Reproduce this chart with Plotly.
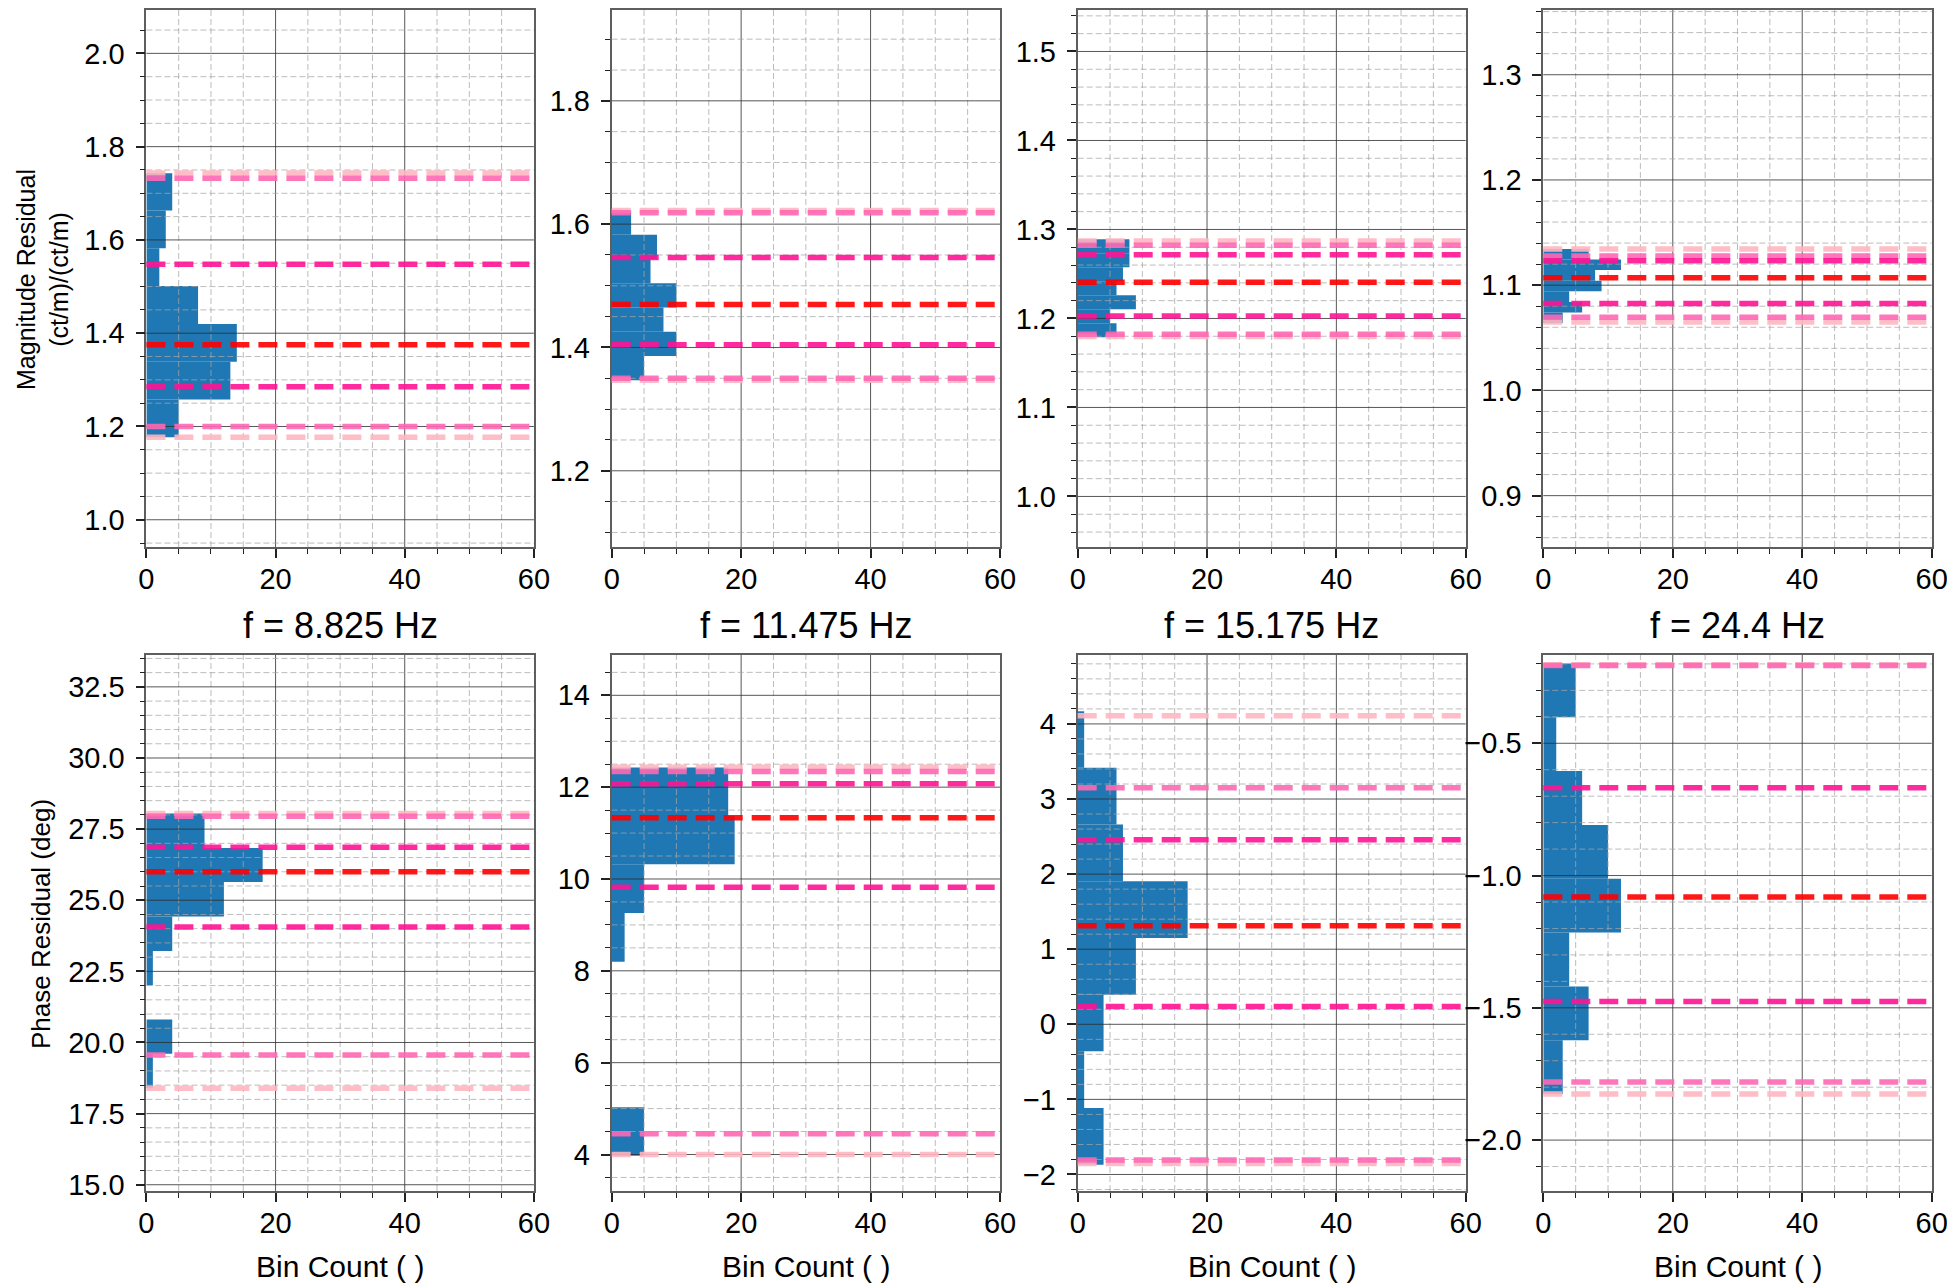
import numpy as np
import plotly.graph_objects as go

# ---------------- data ----------------
freq_labels = ["f = 8.825 Hz", "f = 11.475 Hz", "f = 15.175 Hz", "f = 24.4 Hz"]

# Magnitude residual histograms: bin edges (bottom -> top) and counts
mag_edges = [
    [1.177, 1.258, 1.339, 1.420, 1.501, 1.582, 1.663, 1.743],
    [1.3467, 1.3860, 1.4253, 1.4647, 1.5040, 1.5433, 1.5827, 1.6220],
    [1.1790, 1.1947, 1.2104, 1.2261, 1.2419, 1.2576, 1.2733, 1.2890],
    [1.0640, 1.0741, 1.0841, 1.0942, 1.1043, 1.1144, 1.1244, 1.1345],
]
mag_counts = [
    [5, 13, 14, 8, 2, 3, 4],
    [5, 10, 8, 10, 6, 7, 3],
    [6, 5, 9, 6, 7, 8, 8],
    [3, 6, 4, 9, 8, 12, 7],
]
# Quantile lines: -3s, -2s, -1s, median, +1s, +2s, +3s
mag_quantiles = [
    [1.1770, 1.1998, 1.2853, 1.3751, 1.5478, 1.7324, 1.7434],
    [1.3467, 1.3499, 1.4043, 1.4696, 1.5458, 1.6185, 1.6220],
    [1.1796, 1.1823, 1.2027, 1.2406, 1.2716, 1.2823, 1.2871],
    [1.0651, 1.0696, 1.0827, 1.1071, 1.1233, 1.1278, 1.1345],
]

# Phase residual histograms
phase_edges = [
    [18.39, 19.60, 20.81, 22.01, 23.22, 24.43, 25.64, 26.84, 28.05],
    [3.97, 5.03, 6.09, 7.14, 8.20, 9.26, 10.32, 11.37, 12.43],
    [-1.870, -1.115, -0.360, 0.395, 1.150, 1.905, 2.660, 3.415, 4.170],
    [-1.826, -1.6225, -1.419, -1.2155, -1.012, -0.8085, -0.605, -0.4015, -0.198],
]
phase_counts = [
    [1, 4, 0, 1, 4, 12, 18, 9],
    [5, 0, 0, 0, 2, 5, 19, 18],
    [4, 1, 4, 9, 17, 7, 6, 1],
    [3, 7, 4, 12, 10, 6, 2, 5],
]
phase_quantiles = [
    [18.39, 19.56, 24.06, 26.00, 26.86, 27.95, 28.05],
    [4.000, 4.453, 9.820, 11.335, 12.074, 12.342, 12.434],
    [-1.853, -1.807, 0.238, 1.314, 2.459, 3.150, 4.108],
    [-1.826, -1.7806, -1.4759, -1.0808, -0.6685, -0.2060, -0.2032],
]

x_ticks = [0, 20, 40, 60]

# ---------------- layout config ----------------
OFF = 8                      # page body margin of the browser
W, H = 1955 - OFF, 1286 - OFF
col_px = [(146.4, 533.9), (611.7, 1000.0), (1077.7, 1465.7), (1543.3, 1931.7)]
row_px = [(10, 547), (655, 1191)]

def fx(px):
    return (px - OFF) / W

def fy(py):
    return 1 - (py - OFF) / H

y_ranges = [
    [(0.9416, 2.093), (1.0764, 1.9473), (0.9432, 1.5466), (0.8512, 1.3615)],
    [(14.78, 33.62), (3.205, 14.878), (-2.22, 4.918), (-2.1925, -0.1663)],
]
y_major = [[0.2, 0.2, 0.1, 0.1], [2.5, 2.0, 1.0, 0.5]]
y_minor = [[0.05, 0.05, 0.02, 0.02], [0.5, 0.5, 0.2, 0.1]]
y_fmt = [[".1f", ".1f", ".1f", ".1f"], [".1f", "d", "d", ".1f"]]

FONT = "Liberation Sans, Arial, Helvetica, sans-serif"
BAR_COLOR = "#1f77b4"
q_colors = ["#FFB6C1", "#FF69B4", "#FF1493", "#FF0000", "#FF1493", "#FF69B4", "#FFB6C1"]
draw_order = [0, 6, 1, 5, 2, 4, 3]
MAJOR_GRID = "rgba(45,45,45,0.8)"
MINOR_GRID = "rgba(165,165,165,0.75)"

fig = go.Figure()
shapes = []
annotations = []

def grid_values(lo, hi, step):
    k0 = int(np.ceil(lo / step - 1e-9))
    k1 = int(np.floor(hi / step + 1e-9))
    return [k * step for k in range(k0, k1 + 1)]

idx = 0
for r in range(2):
    edges_all = mag_edges if r == 0 else phase_edges
    counts_all = mag_counts if r == 0 else phase_counts
    quant_all = mag_quantiles if r == 0 else phase_quantiles
    for c in range(4):
        idx += 1
        xa = "x" if idx == 1 else f"x{idx}"
        ya = "y" if idx == 1 else f"y{idx}"
        xkey = "xaxis" if idx == 1 else f"xaxis{idx}"
        ykey = "yaxis" if idx == 1 else f"yaxis{idx}"

        edges = np.array(edges_all[c], dtype=float)
        counts = counts_all[c]
        centers = (edges[:-1] + edges[1:]) / 2
        widths = np.diff(edges)
        fig.add_trace(go.Bar(
            x=counts, y=centers, width=widths, orientation="h",
            marker=dict(color=BAR_COLOR, line=dict(width=0)),
            xaxis=xa, yaxis=ya, showlegend=False, hoverinfo="x+y",
        ))

        ylo, yhi = y_ranges[r][c]
        x0p, x1p = col_px[c]
        y0p, y1p = row_px[r]
        axis_common = dict(
            showgrid=False, zeroline=False, showline=True, mirror=True,
            linecolor="#5e5e5e", linewidth=1.8, automargin=False,
            ticks="outside", ticklen=9, tickwidth=1.5, tickcolor="#222222",
            tickfont=dict(family=FONT, size=29, color="black"),
        )
        fig.layout[xkey] = dict(
            domain=[fx(x0p), fx(x1p)], range=[0, 60], anchor=ya,
            tickmode="array", tickvals=x_ticks, ticktext=[str(v) for v in x_ticks],
            minor=dict(dtick=5, tick0=0, ticks="outside", ticklen=5, tickwidth=1.2,
                       tickcolor="#222222", showgrid=False),
            ticklabelstandoff=-4,
            **axis_common,
        )
        fig.layout[ykey] = dict(
            domain=[fy(y1p), fy(y0p)], range=[ylo, yhi], anchor=xa,
            tick0=0, dtick=y_major[r][c], tickformat=y_fmt[r][c],
            minor=dict(dtick=y_minor[r][c], tick0=0, ticks="outside", ticklen=5,
                       tickwidth=1.2, tickcolor="#222222", showgrid=False),
            ticklabelstandoff=5,
            **axis_common,
        )

        # grid lines (drawn above the bars, like the reference)
        xdom = f"{xa} domain"
        ydom = f"{ya} domain"
        for v in range(5, 60, 5):
            major = (v % 20 == 0)
            shapes.append(dict(
                type="line", xref=xa, yref=ydom, x0=v, x1=v, y0=0, y1=1, layer="above",
                line=dict(color=MAJOR_GRID if major else MINOR_GRID,
                          width=1, dash="solid" if major else "6px,3px"),
            ))
        mstep = y_major[r][c]
        for v in grid_values(ylo, yhi, y_minor[r][c]):
            major = abs(v / mstep - round(v / mstep)) < 1e-6
            shapes.append(dict(
                type="line", xref=xdom, yref=ya, x0=0, x1=1, y0=v, y1=v, layer="above",
                line=dict(color=MAJOR_GRID if major else MINOR_GRID,
                          width=1, dash="solid" if major else "6px,3px"),
            ))

        # quantile lines
        q = quant_all[c]
        for k in draw_order:
            shapes.append(dict(
                type="line", xref=xdom, yref=ya, x0=0, x1=1, y0=q[k], y1=q[k], layer="above",
                opacity=0.9,
                line=dict(color=q_colors[k], width=5.5, dash="19px,9px"),
            ))

        cxp = (x0p + x1p) / 2
        if r == 1:
            annotations.append(dict(
                text=freq_labels[c], xref="paper", yref="paper", x=fx(cxp), y=fy(625),
                xanchor="center", yanchor="middle", showarrow=False,
                font=dict(family=FONT, size=36, color="black"),
            ))
            annotations.append(dict(
                text="Bin Count ( )", xref="paper", yref="paper", x=fx(cxp), y=fy(1266),
                xanchor="center", yanchor="middle", showarrow=False,
                font=dict(family=FONT, size=30, color="black"),
            ))

annotations.append(dict(
    text="Magnitude Residual<br>(ct/m)/(ct/m)", xref="paper", yref="paper",
    x=fx(43), y=fy(280), xanchor="center", yanchor="middle", showarrow=False,
    textangle=-90, font=dict(family=FONT, size=25, color="black"),
))
annotations.append(dict(
    text="Phase Residual (deg)", xref="paper", yref="paper",
    x=fx(41), y=fy(924), xanchor="center", yanchor="middle", showarrow=False,
    textangle=-90, font=dict(family=FONT, size=26, color="black"),
))

fig.update_layout(
    width=W, height=H, margin=dict(l=0, r=0, t=0, b=0, autoexpand=False),
    paper_bgcolor="white", plot_bgcolor="white",
    shapes=shapes, annotations=annotations, barmode="overlay",
    showlegend=False, font=dict(family=FONT, color="black"),
)

fig.write_html("out.html")
